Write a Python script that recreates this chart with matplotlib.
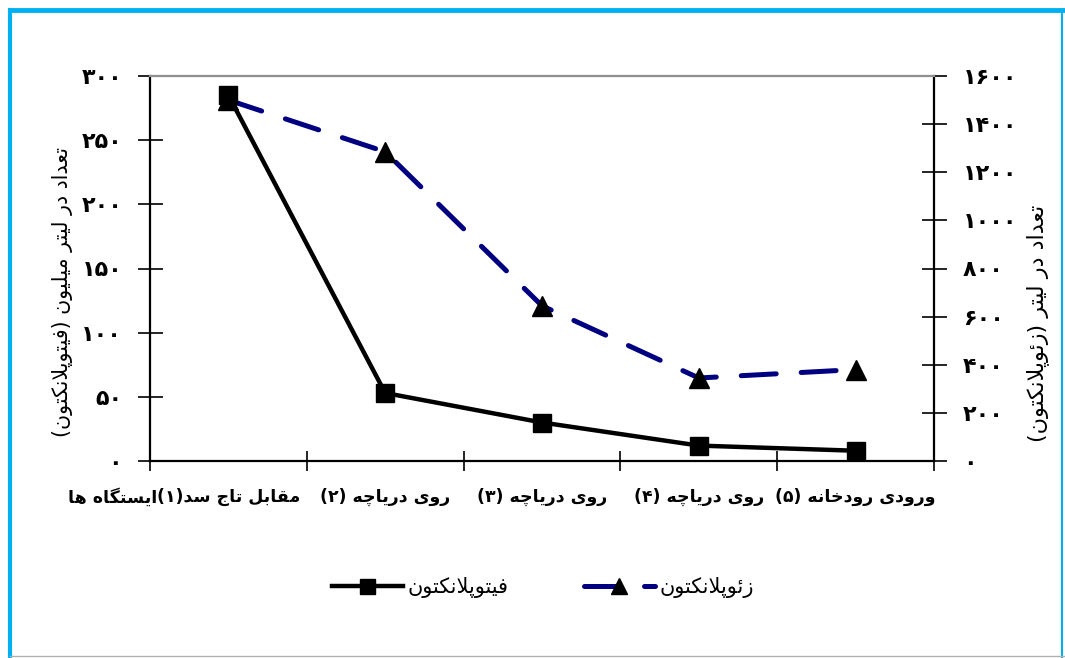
import matplotlib.pyplot as plt
from matplotlib.lines import Line2D

# station names and counts per station
stations = ["مقابل تاج سد(۱)", "روی دریاچه (۲)", "روی دریاچه (۳)", "روی دریاچه (۴)", "ورودی رودخانه (۵)"]
phyto = [285, 53, 30, 12, 8]          # million per litre
zoo = [1500, 1285, 645, 345, 380]     # per litre
phyto_ticks = [0, 50, 100, 150, 200, 250, 300]
zoo_ticks = [0, 200, 400, 600, 800, 1000, 1200, 1400, 1600]

x_title = "ایستگاه ها"
phyto_axis_title = "تعداد در لیتر میلیون (فیتوپلانکتون)"
zoo_axis_title = "تعداد در لیتر (زئوپلانکتون)"
phyto_name = "فیتوپلانکتون"
zoo_name = "زئوپلانکتون"

# isolated, final, initial, medial presentation forms
FORMS = {
    'ا': (0xFE8D, 0xFE8E, None, None),
    'ب': (0xFE8F, 0xFE90, 0xFE91, 0xFE92),
    'ت': (0xFE95, 0xFE96, 0xFE97, 0xFE98),
    'ج': (0xFE9D, 0xFE9E, 0xFE9F, 0xFEA0),
    'خ': (0xFEA5, 0xFEA6, 0xFEA7, 0xFEA8),
    'د': (0xFEA9, 0xFEAA, None, None),
    'ر': (0xFEAD, 0xFEAE, None, None),
    'ز': (0xFEAF, 0xFEB0, None, None),
    'س': (0xFEB1, 0xFEB2, 0xFEB3, 0xFEB4),
    'ع': (0xFEC9, 0xFECA, 0xFECB, 0xFECC),
    'ف': (0xFED1, 0xFED2, 0xFED3, 0xFED4),
    'ق': (0xFED5, 0xFED6, 0xFED7, 0xFED8),
    'ل': (0xFEDD, 0xFEDE, 0xFEDF, 0xFEE0),
    'م': (0xFEE1, 0xFEE2, 0xFEE3, 0xFEE4),
    'ن': (0xFEE5, 0xFEE6, 0xFEE7, 0xFEE8),
    'ه': (0xFEE9, 0xFEEA, 0xFEEB, 0xFEEC),
    'و': (0xFEED, 0xFEEE, None, None),
    'ئ': (0xFE89, 0xFE8A, 0xFE8B, 0xFE8C),
    'پ': (0xFB56, 0xFB57, 0xFB58, 0xFB59),
    'چ': (0xFB7A, 0xFB7B, 0xFB7C, 0xFB7D),
    'ک': (0xFB8E, 0xFB8F, 0xFB90, 0xFB91),
    'گ': (0xFB92, 0xFB93, 0xFB94, 0xFB95),
    'ی': (0xFBFC, 0xFBFD, 0xFBFE, 0xFBFF),
}
MIRROR = {'(': ')', ')': '('}


def joins_next(c):
    return c in FORMS and FORMS[c][2] is not None


def rtl(text):
    """Shape Persian letters and put the string in visual order."""
    out = []
    i = 0
    n = len(text)
    while i < n:
        c = text[i]
        if c not in FORMS:
            out.append(MIRROR.get(c, c))
            i += 1
            continue
        link_prev = i > 0 and joins_next(text[i - 1])
        if c == 'ل' and i + 1 < n and text[i + 1] == 'ا':
            out.append(chr(0xFEFC if link_prev else 0xFEFB))
            i += 2
            continue
        link_next = joins_next(c) and i + 1 < n and text[i + 1] in FORMS
        iso, fin, ini, med = FORMS[c]
        if link_prev and link_next:
            g = med
        elif link_prev:
            g = fin
        elif link_next:
            g = ini
        else:
            g = iso
        out.append(chr(g))
        i += 1
    return ''.join(reversed(out))


def fa_num(v):
    return str(v).translate(str.maketrans('0123456789', '۰۱۲۳۴۵۶۷۸۹'))


plt.rcParams['font.family'] = ['DejaVu Sans']

W, H = 1065, 658
fig = plt.figure(figsize=(W / 100, H / 100), dpi=100)

# frame around the chart area
def frame_line(xs, ys, color, lw):
    fig.add_artist(Line2D([v / W for v in xs], [1 - v / H for v in ys], color=color, lw=lw,
                          transform=fig.transFigure, solid_capstyle='projecting'))

frame_line([10, 1065], [10, 10], '#00B0F0', 3.5)
frame_line([10, 10], [10, 658], '#00B0F0', 3.0)
frame_line([1062, 1062], [10, 658], '#00B0F0', 1.5)
frame_line([10, 1065], [656, 656], '#B0B0B0', 1.0)

ax = fig.add_axes([150 / W, 197 / H, 784 / W, 385 / H])
ax2 = ax.twinx()
ax.set_zorder(ax2.get_zorder() + 1)
ax.patch.set_visible(False)

x = list(range(len(stations)))
ax2.plot(x, zoo, color='#000080', lw=3.6, linestyle=(0, (7, 5)), dash_capstyle='round',
         marker='^', ms=14.5, mfc='black', mec='black', label=rtl(zoo_name))
ax.plot(x, phyto, color='black', lw=3.2, marker='s', ms=13.5, mfc='black', mec='black',
        label=rtl(phyto_name))

ax.set_xlim(-0.5, len(stations) - 0.5)
ax.set_ylim(0, 300)
ax2.set_ylim(0, 1600)

ax.set_xticks([i - 0.5 for i in range(len(stations) + 1)])
ax.set_xticklabels([])
ax.tick_params(axis='x', direction='inout', length=15, width=1.2)
ax.set_yticks(phyto_ticks, labels=[fa_num(v) for v in phyto_ticks])
ax.tick_params(axis='y', direction='inout', length=18, width=1.2, pad=11, labelsize=16)
ax2.set_yticks(zoo_ticks, labels=[fa_num(v) for v in zoo_ticks])
ax2.tick_params(axis='y', direction='inout', length=18, width=1.2, pad=12, labelsize=16)
for lbl in ax.get_yticklabels() + ax2.get_yticklabels():
    lbl.set_fontweight('bold')

for side in ['left', 'bottom']:
    ax.spines[side].set_linewidth(1.6)
ax.spines['right'].set_visible(False)
ax.spines['top'].set_color('#909090')
ax.spines['top'].set_linewidth(1.6)
for side in ['left', 'top', 'bottom']:
    ax2.spines[side].set_visible(False)
ax2.spines['right'].set_linewidth(1.6)

# station names under each category, axis title next to the first one
first = None
for i, name in enumerate(stations):
    t = ax.annotate(rtl(name), xy=(i, 0), xycoords=('data', 'axes fraction'),
                    xytext=(0, -26), textcoords='offset points', ha='center', va='center',
                    fontsize=12.5, fontweight='bold')
    if first is None:
        first = t
ax.annotate(rtl(x_title), xy=(0, 0.5), xycoords=first, ha='right', va='center',
            fontsize=12.5, fontweight='bold')

fig.text(63 / W, 1 - 292 / H, rtl(phyto_axis_title), rotation=90, ha='center', va='center',
         fontsize=14.8)
fig.text(1038 / W, 1 - 323 / H, rtl(zoo_axis_title), rotation=90, ha='center', va='center',
         fontsize=16)

h1, l1 = ax.get_legend_handles_labels()
h2, l2 = ax2.get_legend_handles_labels()
fig.legend(h1 + h2, l1 + l2, loc='center', bbox_to_anchor=(543 / W, 1 - 588 / H), ncol=2,
           frameon=False, fontsize=15, handlelength=3.4, handletextpad=0.25,
           columnspacing=3.6, markerscale=0.8)

fig.savefig('out.png', dpi=100)
